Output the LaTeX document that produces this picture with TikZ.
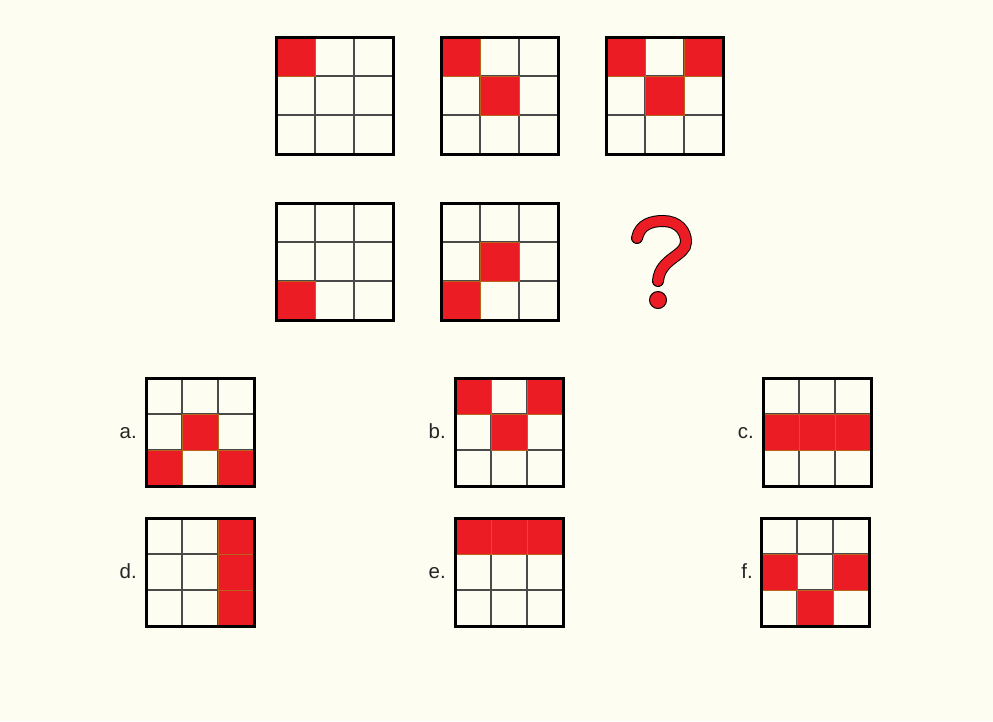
\documentclass[tikz,border=0pt]{standalone}
\usepackage{fontspec}
\setmainfont{Liberation Sans}
\usepackage{tikz}

\definecolor{paper}{HTML}{FEFDF1}
\definecolor{cellred}{HTML}{EC1C24}
\definecolor{celledge}{HTML}{B5651D}
\definecolor{gridgray}{HTML}{4A4A4A}

% grid: x, y, cell size, red cells col/row
\newcommand{\puzgrid}[4]{%
	\foreach \k in {1,2} {
		\draw[innerline] (#1+\k*#3,#2) -- ++(0,3*#3);
		\draw[innerline] (#1,#2+\k*#3) -- ++(3*#3,0);
	}
	\foreach \c/\r in {#4}
		\filldraw[redcell] (#1+\c*#3,#2+\r*#3) rectangle ++(#3,#3);
	\draw[outerline] (#1,#2) rectangle ++(3*#3,3*#3);
}

\begin{document}
\begin{tikzpicture}[x=1pt,y=-1pt,
		innerline/.style={gridgray,line width=1.3pt},
		redcell/.style={fill=cellred,draw=celledge,line width=0.7pt},
		outerline/.style={black,line width=3pt},
		optlabel/.style={anchor=base east,inner sep=0pt,font=\fontsize{20.5}{24}\selectfont,text=black!85}]
				\fill[paper] (0,0) rectangle (993,721);
				\useasboundingbox (0,0) rectangle (993,721);
				% puzzle rows
				\puzgrid{276}{37}{39}{0/0}
				\puzgrid{441}{37}{39}{0/0,1/1}
				\puzgrid{606}{37}{39}{0/0,2/0,1/1}
				\puzgrid{276}{203}{39}{0/2}
				\puzgrid{441}{203}{39}{0/2,1/1}
				% question mark
				\draw[black,line width=12pt,line cap=round] (637,238) .. controls (640,224) and (652,221) .. (663,221) .. controls (678,221) and (686,231) .. (686,242) .. controls (686,256) and (660,258) .. (658,281);
				\draw[cellred,line width=10pt,line cap=round] (637,238) .. controls (640,224) and (652,221) .. (663,221) .. controls (678,221) and (686,231) .. (686,242) .. controls (686,256) and (660,258) .. (658,281);
				\filldraw[fill=cellred,draw=black,line width=1pt] (658,300) circle (8.5);
				% answers
				\puzgrid{146}{378}{36}{1/1,0/2,2/2}
				\puzgrid{455}{378}{36}{0/0,2/0,1/1}
				\puzgrid{763}{378}{36}{0/1,1/1,2/1}
				\puzgrid{146}{518}{36}{2/0,2/1,2/2}
				\puzgrid{455}{518}{36}{0/0,1/0,2/0}
				\puzgrid{761}{518}{36}{0/1,2/1,1/2}
				\node[optlabel] (la) at (137,438) {a.};
				\node[optlabel] (lb) at (446,438) {b.};
				\node[optlabel] (lc) at (754,438) {c.};
				\node[optlabel] (ld) at (137,578) {d.};
				\node[optlabel] (le) at (446,578) {e.};
				\node[optlabel] (lf) at (753,578) {f.};
			\end{tikzpicture}
\end{document}
